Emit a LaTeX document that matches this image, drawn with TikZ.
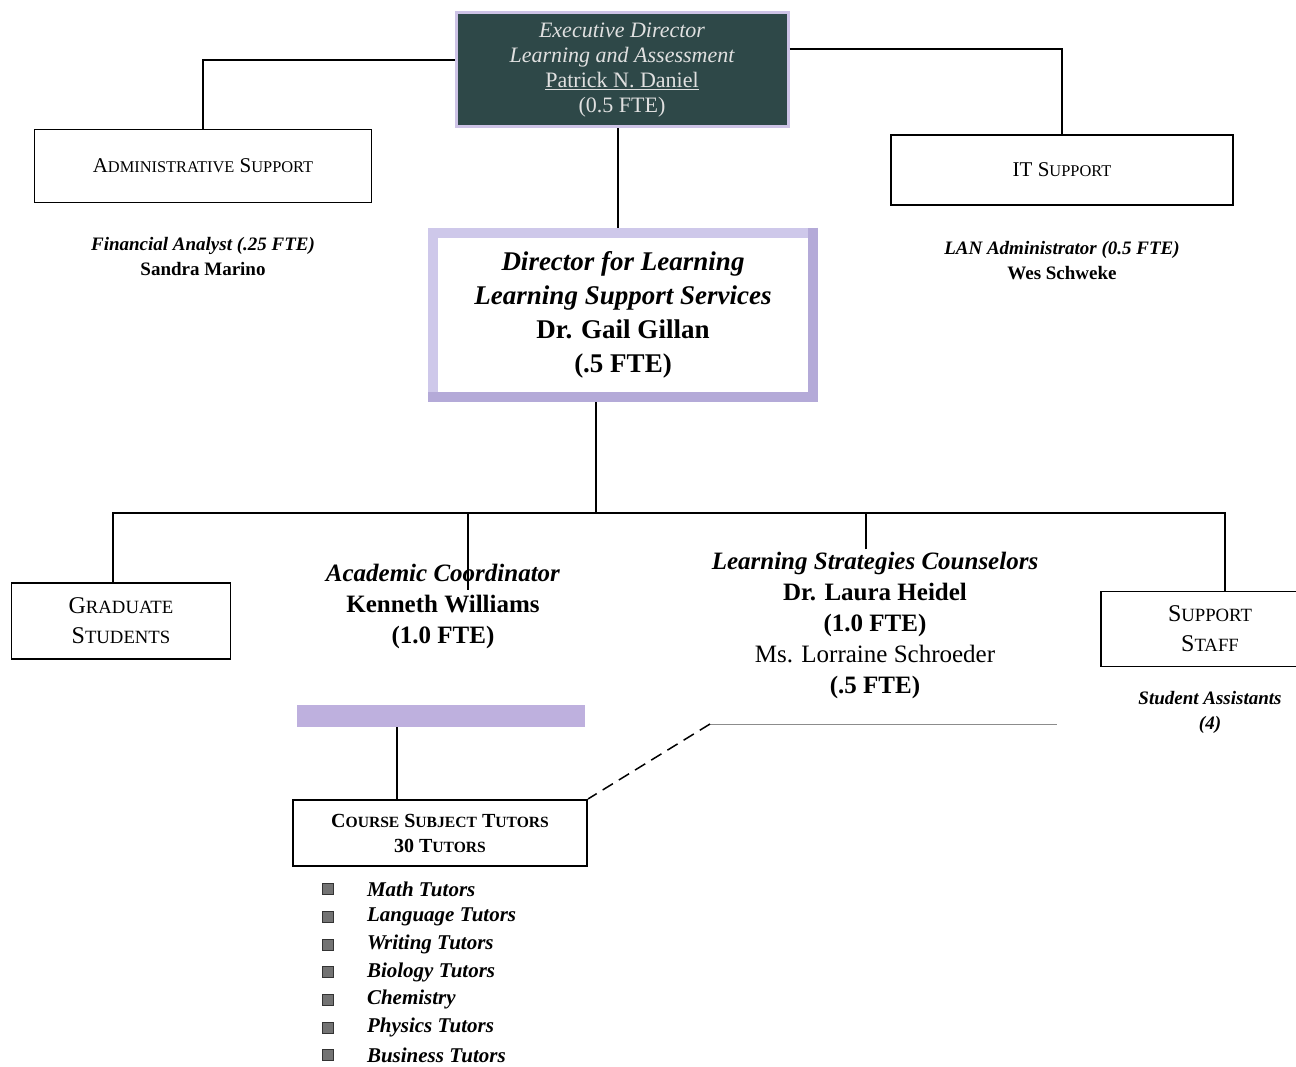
\documentclass[tikz,border=0pt]{standalone}
\usepackage{fontspec}
\setmainfont{Liberation Serif}
\usetikzlibrary{positioning}
\definecolor{execfill}{RGB}{46,72,72}
\definecolor{execedge}{RGB}{205,195,230}
\definecolor{dirframe}{RGB}{206,200,234}
\definecolor{dirshade}{RGB}{180,170,216}
\definecolor{barfill}{RGB}{190,176,222}
\makeatletter
\newcommand{\fakesc}[1]{{\fontsize{\dimexpr\f@size pt*39/50\relax}{\z@}\selectfont #1}}
\makeatother
\tikzstyle{box} = [rectangle, draw=black, line width=1.4pt, text centered, align=center, inner sep=0pt]
\tikzstyle{execbox} = [rectangle, fill=execfill, draw=execedge, line width=3pt, minimum width=332pt, minimum height=114pt, text=white!88!black, align=center, font=\itshape\fontsize{22}{25}\selectfont]
\tikzstyle{dirbox} = [rectangle, draw=dirframe, line width=10pt, fill=white, minimum width=380pt, minimum height=164pt, align=center, font=\bfseries\fontsize{27}{34}\selectfont]
\tikzstyle{info} = [align=center, inner sep=2pt, font=\bfseries\fontsize{19}{25}\selectfont]
\tikzstyle{barstyle} = [rectangle, fill=barfill, minimum width=288pt, minimum height=22pt, inner sep=0pt]
\tikzstyle{bul} = [rectangle, fill=black!55, draw=black!80, line width=0.6pt, minimum size=11pt, inner sep=0pt]
\tikzstyle{tutor} = [inner sep=0pt, font=\bfseries\itshape\fontsize{21}{25}\selectfont]
\tikzstyle{link} = [line width=1.5pt]

\begin{document}
\begin{tikzpicture}[x=1pt, y=-1pt]
	\useasboundingbox [fill=white] (0,0) rectangle (1296,1067);
	% top level
	\node (exec) [execbox] at (622,70) {Executive Director\\Learning and Assessment\\{\upshape\underline{Patrick N. Daniel}}\\{\upshape (0.5 FTE)}};
	\node (admin) [box, minimum width=337pt, minimum height=73pt, font=\fontsize{21}{25}\selectfont] at (203,166) {A\fakesc{DMINISTRATIVE} S\fakesc{UPPORT}};
	\node (it) [box, minimum width=342pt, minimum height=70pt, font=\fontsize{21}{25}\selectfont] at (1062,170) {IT S\fakesc{UPPORT}};
	\node (fin) [info] at (203,257) {\textit{Financial Analyst (.25 FTE)}\\Sandra Marino};
	\node (lan) [info] at (1062,261) {\textit{LAN Administrator (0.5 FTE)}\\Wes Schweke};
	\node (dir) [dirbox] at (623,315) {\textit{Director for Learning}\\\textit{Learning Support Services}\\Dr. Gail Gillan\\(.5 FTE)};
	\draw [dirshade, line width=10pt] ([xshift=-5pt]dir.north east) -- ([xshift=-5pt,yshift=5pt]dir.south east) -- ([yshift=5pt]dir.south west);
	% second level
	\node (grad) [box, minimum width=219pt, minimum height=76pt, font=\fontsize{24}{30}\selectfont] at (121,621) {G\fakesc{RADUATE}\\S\fakesc{TUDENTS}};
	\node (acad) [info, font=\bfseries\fontsize{25}{31}\selectfont] at (443,606) {\textit{Academic Coordinator}\\Kenneth Williams\\(1.0 FTE)};
	\node (lsc) [info, font=\bfseries\fontsize{25}{31}\selectfont] at (875,625) {\textit{Learning Strategies Counselors}\\Dr. Laura Heidel\\(1.0 FTE)\\{\mdseries Ms. Lorraine Schroeder}\\(.5 FTE)};
	\node (supp) [box, minimum width=218pt, minimum height=75pt, font=\fontsize{24}{30}\selectfont] at (1210,629) {S\fakesc{UPPORT}\\S\fakesc{TAFF}};
	\node (asst) [info] at (1210,712) {\textit{Student Assistants}\\\textit{(4)}};
	% tutors
	\node (bar) [barstyle] at (441,716) {};
	\node (course) [box, line width=2.2pt, minimum width=294pt, minimum height=66pt, font=\bfseries\fontsize{20}{25}\selectfont] at (440,833) {C\fakesc{OURSE} S\fakesc{UBJECT} T\fakesc{UTORS}\\30 T\fakesc{UTORS}};
	\foreach \subj [count=\i] in {Math Tutors, Language Tutors, Writing Tutors, Biology Tutors, Chemistry, Physics Tutors, Business Tutors}{
		\node (bul\i) [bul] at (328, 861.3+27.7*\i) {};
		\node (tut\i) [tutor, right=33pt of bul\i] {\subj};
	}
	% connectors
	\coordinate (busL) at (113,513);
	\coordinate (busM) at (596,513);
	\coordinate (busR) at (1225,513);
	\coordinate (acadtop) at (468,590);
	\coordinate (lscL) at (710,724);
	\coordinate (lscR) at (1057,724);
	\draw [link] ([yshift=10pt]exec.west) -| (admin.north);
	\draw [link] ([yshift=21pt]exec.east) -| (it.north);
	\draw [link] ([xshift=-4pt]exec.south) -- ([xshift=-4pt]exec.south |- dir.north);
	\draw [link] (busM |- dir.south) -- (busM);
	\draw [link] (busL |- grad.north) -- (busL) -- (busR) -- (busR |- supp.north);
	\draw [link] (acadtop |- busL) -- (acadtop);
	\draw [link] ([xshift=-9pt]lsc.north) -- ([xshift=-9pt]lsc.north |- busL);
	\draw [link] ([xshift=-44pt]bar.south) -- ([xshift=-44pt]bar.south |- course.north);
	\draw [black!45, line width=0.8pt] (lscL) -- (lscR);
	\draw [link, dash pattern=on 12pt off 7pt] (lscL) -- (course.north east);
\end{tikzpicture}
\end{document}
